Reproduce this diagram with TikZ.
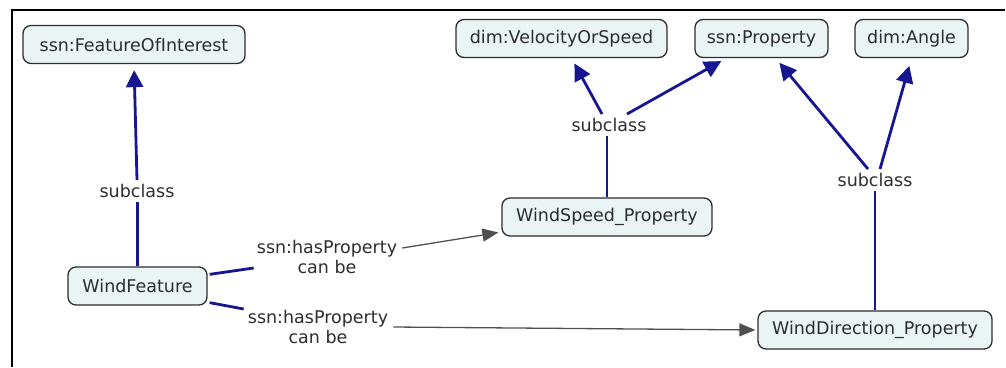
\documentclass[tikz,border=0pt]{standalone}
\usepackage{fontspec}
\setmainfont{DejaVu Sans}
\usetikzlibrary{arrows.meta}
\definecolor{navy}{RGB}{22,22,145}
\definecolor{conceptfill}{RGB}{234,244,244}
\definecolor{ink}{RGB}{45,45,45}
\definecolor{linkgray}{RGB}{80,80,80}
\begin{document}
\begin{tikzpicture}[x=1pt,y=-1pt,
  concept/.style={draw=ink,line width=1.3pt,fill=conceptfill,rounded corners=8pt,
    minimum height=38pt,inner sep=0pt,text=ink,font=\fontsize{17.5}{20}\selectfont},
  linklabel/.style={inner sep=0pt,text=ink,align=center,font=\fontsize{17.5}{20}\selectfont},
  sublabel/.style={linklabel,inner sep=4pt},
  sub/.style={draw=navy,line width=2.8pt},
  subarrow/.style={sub,-{Triangle[length=17pt,width=17pt]},shorten >=6pt},
  rel/.style={draw=linkgray,line width=1.3pt,-{Triangle[length=16pt,width=13pt]}}]
\useasboundingbox (0,0) rectangle (1006,367);
% frame
\draw[line width=2pt] (12,367) -- (12,10) -- (1005,10);

% concepts
\node[concept,minimum width=222pt] (foi)   at (134,44.5) {ssn:FeatureOfInterest};
\node[concept,minimum width=211pt] (vos)   at (561.5,38.5) {dim:VelocityOrSpeed};
\node[concept,minimum width=133pt] (prop)  at (761.5,38.5) {ssn:Property};
\node[concept,minimum width=113pt] (angle) at (911.5,38.5) {dim:Angle};
\node[concept,minimum width=139pt] (wf)    at (137.5,286) {WindFeature};
\node[concept,minimum width=210pt] (ws)    at (607,217) {WindSpeed\_Property};
\node[concept,minimum width=234pt] (wd)    at (875,330) {WindDirection\_Property};

% link labels
\node[sublabel] (s1) at (137,191) {subclass};
\node[sublabel] (s2) at (609,125) {subclass};
\node[sublabel] (s3) at (875,180) {subclass};
\node[linklabel] (hp1) at (327,257) {ssn:hasProperty\\can be};
\node[linklabel] (hp2) at (318,327) {ssn:hasProperty\\can be};

% subclass links
\draw[sub] (wf.north) -- (wf.north |- s1.south);
\draw[subarrow] (s1.north) -- (foi.south);
\draw[sub] (ws.north) -- (ws.north |- s2.south);
\draw[subarrow] ([xshift=-7pt]s2.north) -- ([xshift=10pt]vos.south);
\draw[subarrow] ([xshift=18pt]s2.north) -- ([xshift=-35pt]prop.south);
\draw[sub] (wd.north) -- (wd.north |- s3.south);
\draw[subarrow] ([xshift=-7pt]s3.north) -- ([xshift=14pt]prop.south);
\draw[subarrow,shorten >=8pt] ([xshift=5pt]s3.north) -- (angle.south);

% property links
\draw[sub] ([xshift=2pt,yshift=-8pt]wf.north east) -- ([xshift=-3pt,yshift=-11pt]hp1.west);
\draw[rel,shorten >=3pt] ([xshift=5pt,yshift=9pt]hp1.east) -- ([yshift=-15pt]ws.west);
\draw[sub] ([xshift=2pt,yshift=3pt]wf.south east) -- ([xshift=-4pt,yshift=18pt]hp2.west);
\draw[rel,shorten >=2pt] ([xshift=5pt]hp2.east) -- (wd.west);
\end{tikzpicture}
\end{document}
